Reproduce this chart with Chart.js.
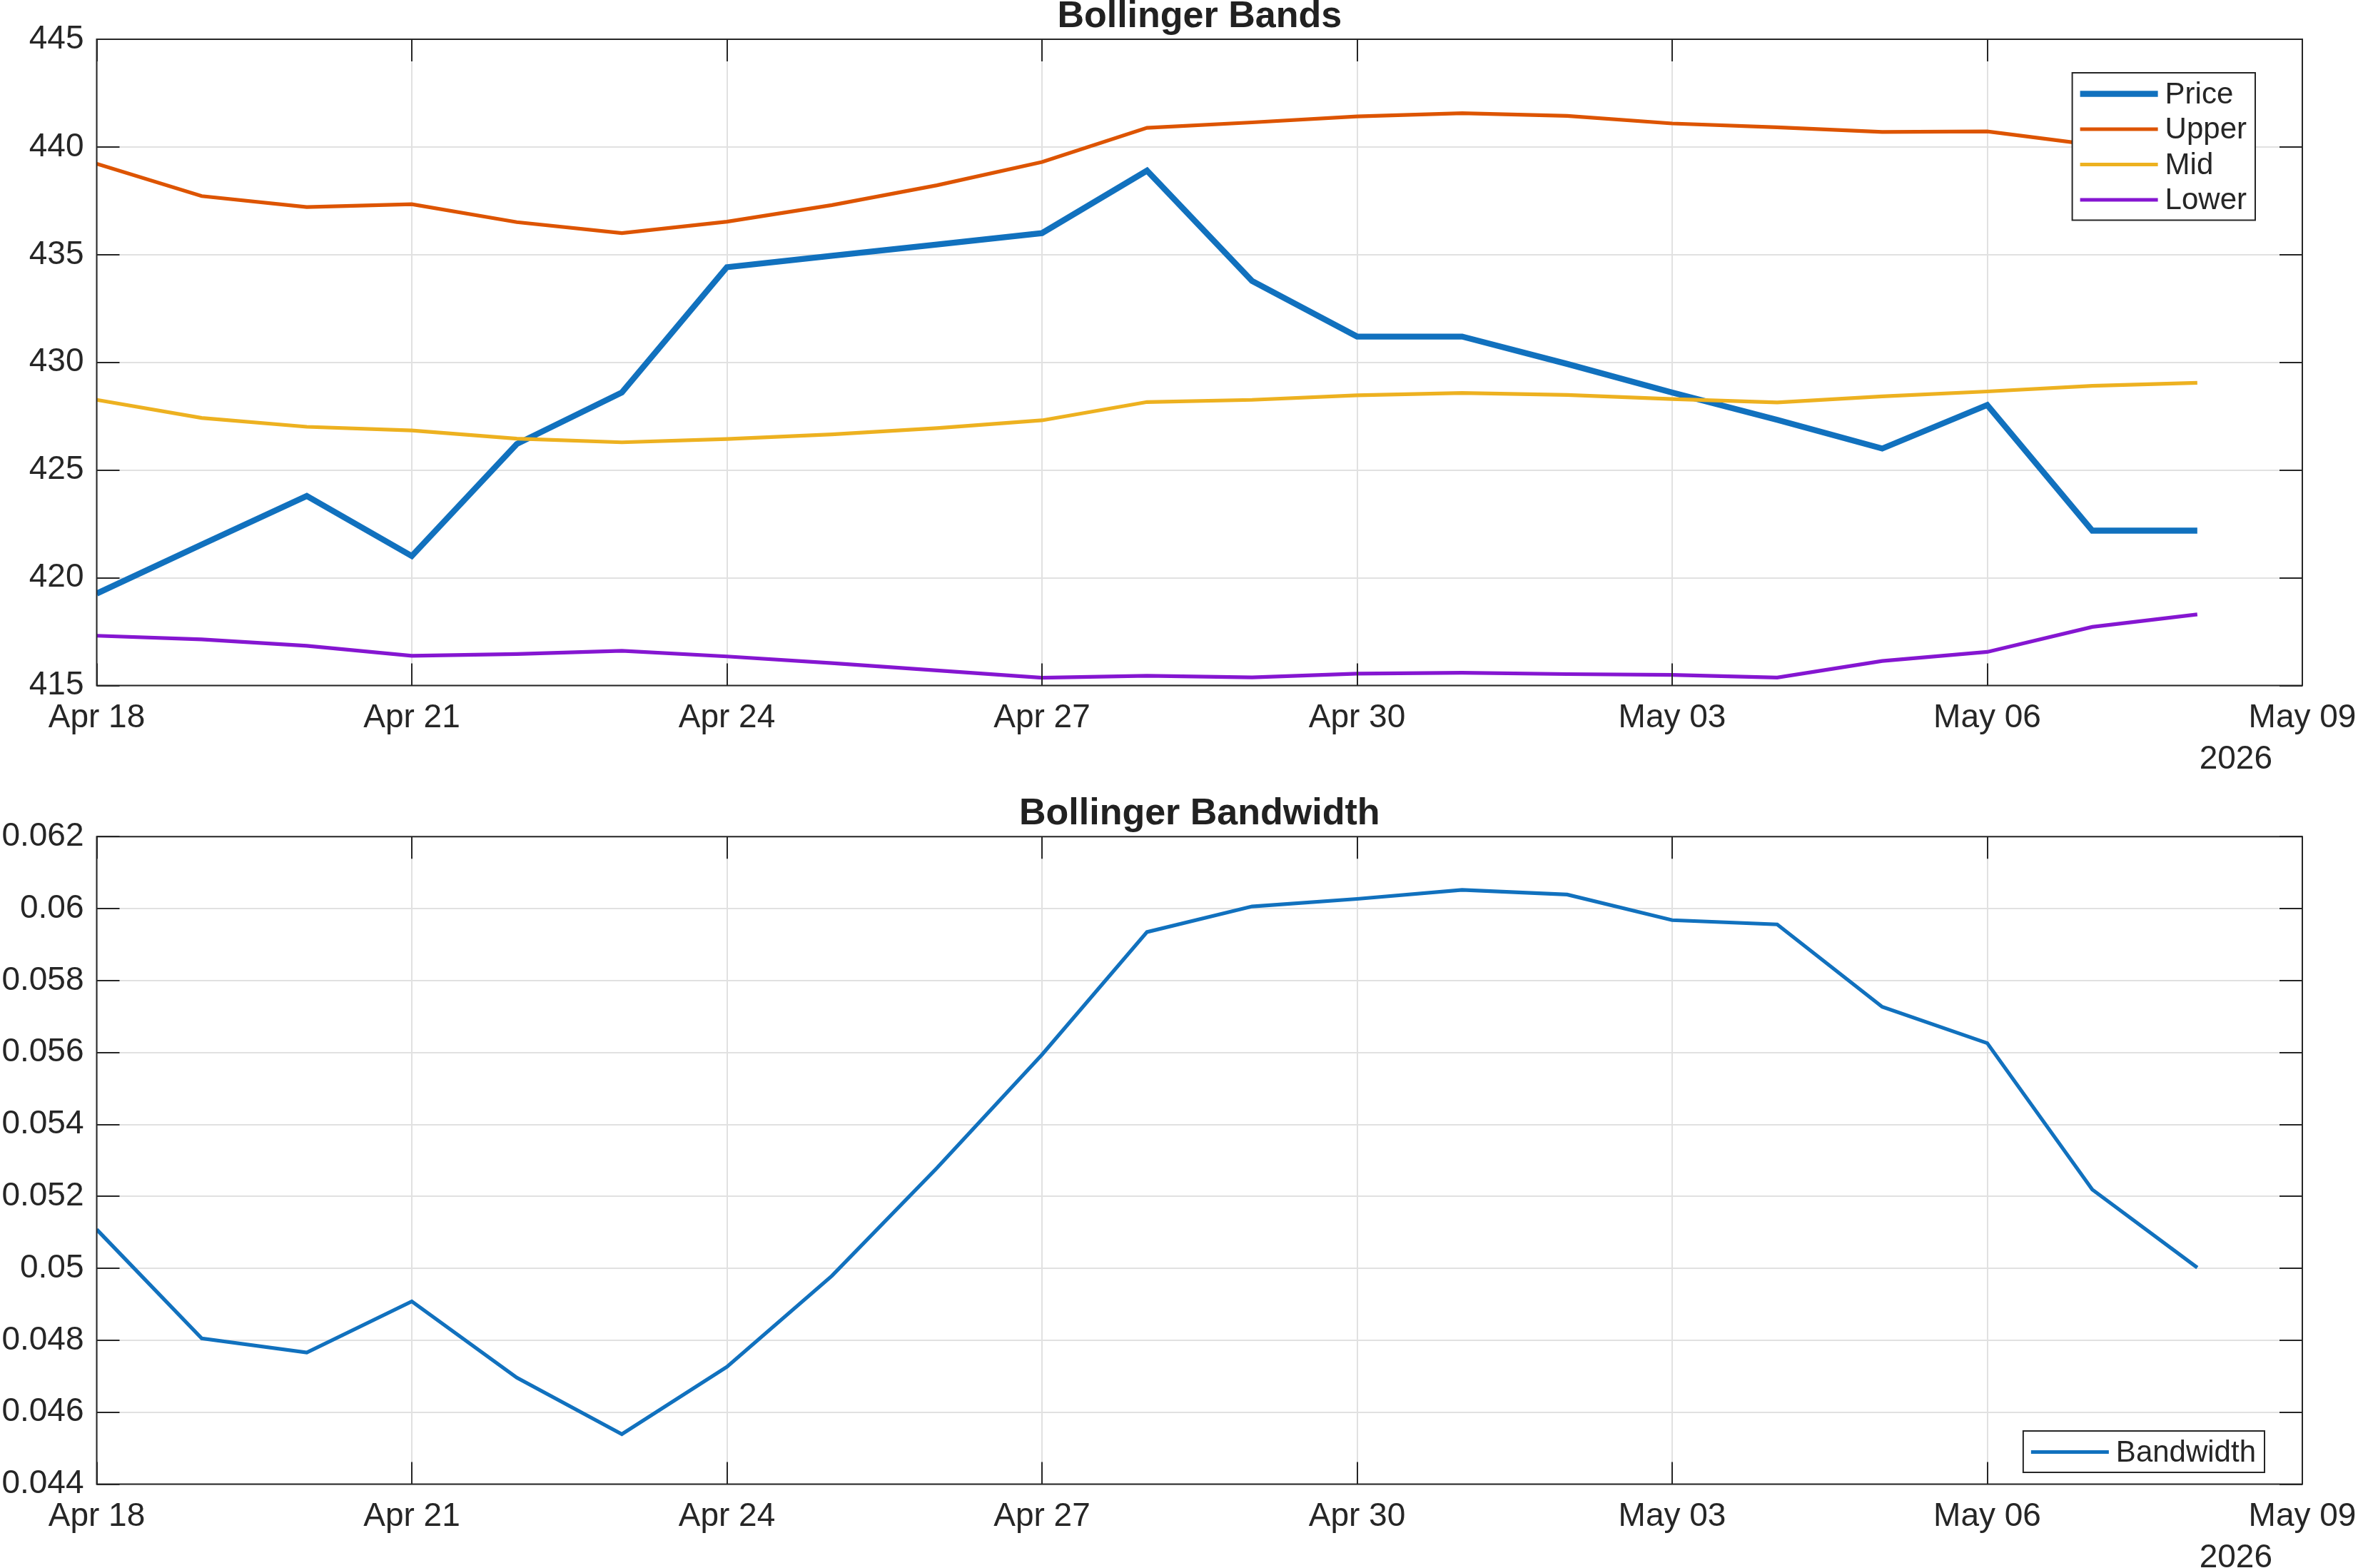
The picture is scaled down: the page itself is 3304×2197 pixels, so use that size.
<!DOCTYPE html>
<html>
<head>
<meta charset="utf-8">
<script src="https://cdn.jsdelivr.net/npm/chart.js@4.4.1/dist/chart.umd.min.js"></script>
<style>
  html, body { margin: 0; padding: 0; background: #fff; }
  #wrap { position: relative; width: 3304px; height: 2197px; overflow: hidden; }
  #wrap canvas { position: absolute; left: 0; }
</style>
</head>
<body>
<div id="wrap">
  <canvas id="bandsChart" width="3304" height="1100" style="top:0"></canvas>
  <canvas id="bwChart" width="3304" height="1097" style="top:1100px"></canvas>
</div>
<script>
// daily points, Apr 18 .. May 08 (2026)
const dates = ['Apr 18', 'Apr 19', 'Apr 20', 'Apr 21', 'Apr 22', 'Apr 23', 'Apr 24',
               'Apr 25', 'Apr 26', 'Apr 27', 'Apr 28', 'Apr 29', 'Apr 30', 'May 01',
               'May 02', 'May 03', 'May 04', 'May 05', 'May 06', 'May 07', 'May 08'];
const tickLabels = ['Apr 18', 'Apr 21', 'Apr 24', 'Apr 27', 'Apr 30', 'May 03', 'May 06', 'May 09'];
const yearLabel = '2026';

const price = [419.27, 421.54, 423.80, 421.01, 426.21, 428.60, 434.42, 434.95, 435.47, 436.00, 438.90,
               433.78, 431.20, 431.20, 429.93, 428.60, 427.33, 426.00, 428.02, 422.19, 422.19];
const upper = [439.22, 437.72, 437.21, 437.34, 436.51, 436.00, 436.53, 437.30, 438.22, 439.30, 440.89,
               441.14, 441.42, 441.57, 441.44, 441.09, 440.91, 440.70, 440.72, 440.10, 439.80];
const mid   = [428.26, 427.42, 427.01, 426.84, 426.46, 426.29, 426.44, 426.66, 426.95, 427.31, 428.16,
               428.26, 428.47, 428.58, 428.49, 428.30, 428.14, 428.42, 428.65, 428.91, 429.05];
const lower = [417.31, 417.14, 416.84, 416.38, 416.46, 416.61, 416.35, 416.04, 415.70, 415.36, 415.45,
               415.38, 415.55, 415.59, 415.53, 415.49, 415.37, 416.14, 416.56, 417.72, 418.30];
const bandwidth = [0.05108, 0.04805, 0.04766, 0.04908, 0.04696, 0.04539, 0.04726, 0.04979, 0.05279,
                   0.05594, 0.05935, 0.06006, 0.06027, 0.06052, 0.06039, 0.05968, 0.05956, 0.05727,
                   0.05626, 0.05219, 0.05002];

const FONT = '"Liberation Sans", Arial, Helvetica, sans-serif';
const AXIS_COLOR = '#262626';
const GRID_COLOR = '#e1e1e1';

const pts = (arr) => arr.map((v, i) => ({ x: i, y: v }));

/* ---- matlab-ish frame: box, inward ticks, title, year, legend ---- */
const matlabAxes = {
  id: 'matlabAxes',
  afterDraw(chart, args, opts) {
    const { ctx, chartArea: a } = chart;
    const { x, y } = chart.scales;
    ctx.save();

    // inward tick marks on all four sides
    ctx.strokeStyle = AXIS_COLOR;
    ctx.lineWidth = 2;
    ctx.beginPath();
    x.ticks.forEach(t => {
      const px = Math.round(x.getPixelForValue(t.value));
      ctx.moveTo(px, a.bottom); ctx.lineTo(px, a.bottom - 31);
      ctx.moveTo(px, a.top); ctx.lineTo(px, a.top + 31);
    });
    y.ticks.forEach(t => {
      const py = Math.round(y.getPixelForValue(t.value));
      ctx.moveTo(a.left, py); ctx.lineTo(a.left + 32, py);
      ctx.moveTo(a.right, py); ctx.lineTo(a.right - 32, py);
    });
    ctx.stroke();
    ctx.strokeRect(a.left, a.top, a.right - a.left, a.bottom - a.top);

    // title
    ctx.fillStyle = '#212121';
    ctx.font = 'bold 52px ' + FONT;
    ctx.textAlign = 'center';
    ctx.textBaseline = 'alphabetic';
    ctx.fillText(opts.title, (a.left + a.right) / 2, a.top - 17);

    // year under last tick
    ctx.fillStyle = AXIS_COLOR;
    ctx.font = '46px ' + FONT;
    ctx.textAlign = 'right';
    ctx.fillText(yearLabel, a.right - 42, a.bottom + 116);

    // legend box
    const sets = chart.data.datasets;
    ctx.font = '42px ' + FONT;
    const textW = Math.max(...sets.map(d => ctx.measureText(d.label).width));
    const rowH = 49.5;
    const w = 129 + textW + 13;
    const h = sets.length * rowH + 8.5;
    const lg = opts.legend;
    const bx = a.right - lg.right - w;
    const by = lg.top != null ? a.top + lg.top : a.bottom - lg.bottom - h;
    ctx.fillStyle = '#fff';
    ctx.fillRect(bx, by, w, h);
    ctx.strokeStyle = AXIS_COLOR;
    ctx.lineWidth = 2;
    ctx.strokeRect(bx, by, w, h);
    ctx.textAlign = 'left';
    sets.forEach((d, i) => {
      const ly = by + 29.5 + i * rowH;
      ctx.strokeStyle = d.borderColor;
      ctx.lineWidth = d.borderWidth;
      ctx.beginPath();
      ctx.moveTo(bx + 11, ly);
      ctx.lineTo(bx + 120, ly);
      ctx.stroke();
      ctx.fillStyle = AXIS_COLOR;
      ctx.fillText(d.label, bx + 130, ly + 13);
    });
    ctx.restore();
  }
};

function makeChart(id, cfg) {
  return new Chart(document.getElementById(id), {
    type: 'line',
    data: { datasets: cfg.datasets },
    plugins: [matlabAxes],
    options: {
      responsive: false,
      animation: false,
      devicePixelRatio: 1,
      layout: { padding: { top: cfg.top, right: 78, left: 0, bottom: 0 } },
      elements: { point: { radius: 0 }, line: { tension: 0 } },
      plugins: {
        legend: { display: false },
        title: { display: false },
        tooltip: { enabled: false },
        matlabAxes: { title: cfg.title, legend: cfg.legend }
      },
      scales: {
        x: {
          type: 'linear',
          min: 0,
          max: 21,
          afterFit: s => { s.height = cfg.xHeight; s.paddingLeft = 0; s.paddingRight = 0; },
          border: { display: false },
          grid: { color: GRID_COLOR, lineWidth: 2, drawTicks: false },
          ticks: {
            stepSize: 3,
            autoSkip: false,
            maxRotation: 0,
            padding: 18,
            color: AXIS_COLOR,
            font: { family: FONT, size: 46 },
            callback: v => tickLabels[Math.round(v / 3)]
          }
        },
        y: {
          min: cfg.yMin,
          max: cfg.yMax,
          afterFit: s => { s.width = 135.5; s.paddingTop = 0; s.paddingBottom = 0; },
          border: { display: false },
          grid: { color: GRID_COLOR, lineWidth: 2, drawTicks: false },
          ticks: {
            stepSize: cfg.yStep,
            padding: 18,
            color: AXIS_COLOR,
            font: { family: FONT, size: 46 },
            callback: cfg.yFmt
          }
        }
      }
    }
  });
}

makeChart('bandsChart', {
  title: 'Bollinger Bands',
  top: 55,
  xHeight: 139.5,
  yMin: 415, yMax: 445, yStep: 5,
  yFmt: v => String(Math.round(v)),
  legend: { right: 66, top: 47 },
  datasets: [
    { label: 'Price', data: pts(price), borderColor: '#1171BE', borderWidth: 8.3, order: 3 },
    { label: 'Upper', data: pts(upper), borderColor: '#DD5400', borderWidth: 5.2, order: 2 },
    { label: 'Mid',   data: pts(mid),   borderColor: '#EDB120', borderWidth: 5.2, order: 1 },
    { label: 'Lower', data: pts(lower), borderColor: '#8516D1', borderWidth: 5.2, order: 0 }
  ]
});

makeChart('bwChart', {
  title: 'Bollinger Bandwidth',
  top: 72.3,
  xHeight: 1097 - 979.5,
  yMin: 0.044, yMax: 0.062, yStep: 0.002,
  yFmt: v => String(+v.toFixed(3)),
  legend: { right: 53, bottom: 16.5 },
  datasets: [
    { label: 'Bandwidth', data: pts(bandwidth), borderColor: '#1171BE', borderWidth: 5.2 }
  ]
});
</script>
</body>
</html>
